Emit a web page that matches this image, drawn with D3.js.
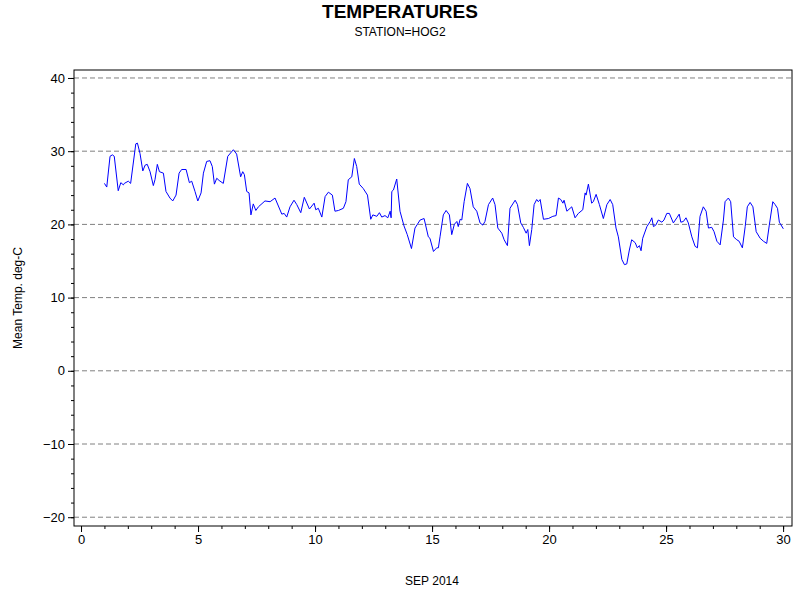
<!DOCTYPE html><html><head><meta charset="utf-8"><script src="https://cdn.jsdelivr.net/npm/d3@7"></script>
<style>body{margin:0;background:#fff}text{font-family:Arial,"Liberation Sans",sans-serif}</style></head><body><svg width="800" height="600"></svg><script>
const days=[1.00,1.10,1.24,1.34,1.42,1.59,1.70,1.81,1.85,2.02,2.12,2.34,2.41,2.52,2.64,2.74,2.83,2.95,3.09,3.16,3.26,3.35,3.52,3.63,3.80,3.92,4.06,4.19,4.30,4.49,4.63,4.73,4.87,4.99,5.13,5.23,5.37,5.51,5.61,5.70,5.80,5.90,6.08,6.27,6.51,6.65,6.82,6.91,6.98,7.08,7.18,7.26,7.36,7.47,7.58,7.86,8.08,8.29,8.58,8.68,8.79,8.93,9.10,9.22,9.39,9.54,9.76,9.96,10.03,10.14,10.29,10.43,10.57,10.74,10.85,11.00,11.21,11.32,11.42,11.57,11.68,11.78,11.89,12.06,12.24,12.38,12.47,12.64,12.75,12.85,12.99,13.11,13.21,13.25,13.28,13.35,13.49,13.63,13.80,13.94,14.12,14.27,14.49,14.66,14.84,14.91,15.06,15.20,15.27,15.34,15.48,15.60,15.74,15.84,15.95,16.06,16.12,16.20,16.27,16.37,16.51,16.62,16.76,16.91,17.05,17.17,17.26,17.41,17.59,17.69,17.81,17.98,18.08,18.22,18.33,18.55,18.65,18.79,18.90,19.02,19.09,19.16,19.26,19.36,19.47,19.54,19.62,19.76,19.97,20.16,20.30,20.40,20.50,20.59,20.64,20.76,20.97,21.11,21.25,21.44,21.54,21.58,21.68,21.82,21.89,22.01,22.15,22.32,22.47,22.61,22.72,22.86,22.96,23.11,23.22,23.32,23.43,23.53,23.68,23.77,23.86,23.93,24.00,24.18,24.32,24.39,24.46,24.56,24.67,24.82,24.91,25.03,25.14,25.31,25.46,25.56,25.63,25.74,25.85,25.95,26.10,26.24,26.34,26.45,26.59,26.71,26.81,26.95,27.05,27.17,27.31,27.45,27.52,27.66,27.76,27.88,28.02,28.12,28.26,28.38,28.47,28.59,28.71,28.85,29.02,29.16,29.30,29.41,29.56,29.66,29.76,29.84,30.01];
const temps=[25.6,25.1,29.3,29.5,29.3,24.6,25.7,25.4,25.6,25.9,25.6,31.0,31.1,29.7,27.3,28.1,28.2,27.2,25.3,26.1,28.2,27.2,27.0,24.5,23.6,23.2,24.0,27.0,27.5,27.5,25.7,25.9,24.5,23.2,24.3,27.0,28.6,28.7,27.9,25.5,26.3,26.0,25.6,29.3,30.2,29.6,26.5,27.2,26.8,24.5,24.3,21.3,22.8,21.9,22.4,23.2,23.1,23.6,21.4,21.5,21.0,22.4,23.3,22.7,21.6,23.7,22.1,22.9,22.0,22.2,21.0,23.8,24.4,24.0,21.8,21.9,22.2,23.1,26.1,26.5,29.0,27.9,25.5,24.9,24.0,20.7,21.3,21.1,21.6,21.0,21.2,20.9,21.8,20.9,24.5,24.7,26.2,21.8,19.8,18.6,16.7,19.5,20.6,20.8,18.3,18.1,16.3,16.8,16.8,18.3,21.3,21.9,21.3,18.6,20.0,20.4,19.7,20.7,20.6,23.1,25.6,24.9,22.4,21.8,20.2,19.9,20.4,22.7,23.6,22.7,19.5,18.8,17.9,17.1,22.2,23.3,22.7,20.2,19.6,18.8,19.3,17.1,19.3,22.7,23.4,23.1,23.4,20.7,20.8,21.1,21.2,23.6,23.4,22.9,23.3,21.8,22.4,20.9,21.5,22.0,24.3,24.0,25.5,22.9,23.1,24.1,22.7,20.8,22.7,23.4,22.7,19.5,18.3,15.2,14.5,14.6,16.5,17.9,17.5,16.8,17.1,16.4,18.1,19.7,20.4,20.9,19.7,19.9,20.6,20.3,20.6,21.5,21.5,20.2,20.9,21.4,20.3,20.4,20.9,20.2,18.3,17.0,16.8,21.1,22.4,21.8,19.5,19.6,19.0,17.7,17.2,20.6,23.1,23.6,23.1,18.3,17.9,17.7,16.8,19.7,22.4,23.0,22.4,19.0,18.1,17.7,17.4,19.9,23.1,22.7,22.2,20.3,19.4];
const xTicks=[0,5,10,15,20,25,30];
const yTicks=[-20,-10,0,10,20,30,40];
const title="TEMPERATURES", subtitle="STATION=HOG2", xLabel="SEP 2014", yLabel="Mean Temp. deg-C";

const svg=d3.select("svg");
const L=74,R=792,T=70,B=526;
const x=d3.scaleLinear().domain([-0.3,30.38]).range([L,R]);
const y=d3.scaleLinear().domain([41.09,-21.2]).range([T,B]);
svg.append("g").selectAll("line").data(yTicks).join("line")
 .attr("x1",L).attr("x2",R).attr("y1",d=>y(d)).attr("y2",d=>y(d))
 .attr("stroke","#808080").attr("stroke-dasharray","5,3");
svg.append("rect").attr("x",L).attr("y",T).attr("width",R-L).attr("height",B-T).attr("fill","none").attr("stroke","#000");
const xa=svg.append("g").attr("transform",`translate(0,${B})`).call(d3.axisBottom(x).tickValues(xTicks).tickSize(6).tickSizeOuter(0));
svg.append("g").attr("transform",`translate(0,${B})`).call(d3.axisBottom(x).tickValues(d3.range(0,31)).tickSize(3).tickFormat("")).select(".domain").remove();
const ya=svg.append("g").attr("transform",`translate(${L},0)`).call(d3.axisLeft(y).tickValues(yTicks).tickSize(6).tickSizeOuter(0));
svg.append("g").attr("transform",`translate(${L},0)`).call(d3.axisLeft(y).tickValues(d3.range(-20,41,2)).tickSize(3).tickFormat("")).select(".domain").remove();
svg.selectAll(".tick text").attr("font-size",13).attr("font-family","Arial,Liberation Sans,sans-serif").attr("fill","#000");
svg.selectAll(".domain").remove();
const line=d3.line().x((d,i)=>x(days[i])).y(d=>y(d));
svg.append("path").datum(temps).attr("d",line).attr("fill","none").attr("stroke","#0000ff").attr("stroke-width",1);
svg.append("text").attr("x",400).attr("y",18).attr("text-anchor","middle").attr("font-size",19).attr("font-weight","bold").text(title);
svg.append("text").attr("x",400).attr("y",36).attr("text-anchor","middle").attr("font-size",12).text(subtitle);
svg.append("text").attr("x",432).attr("y",585).attr("text-anchor","middle").attr("font-size",12).text(xLabel);
svg.append("text").attr("transform","translate(22,298) rotate(-90)").attr("text-anchor","middle").attr("font-size",12).text(yLabel);
</script></body></html>
